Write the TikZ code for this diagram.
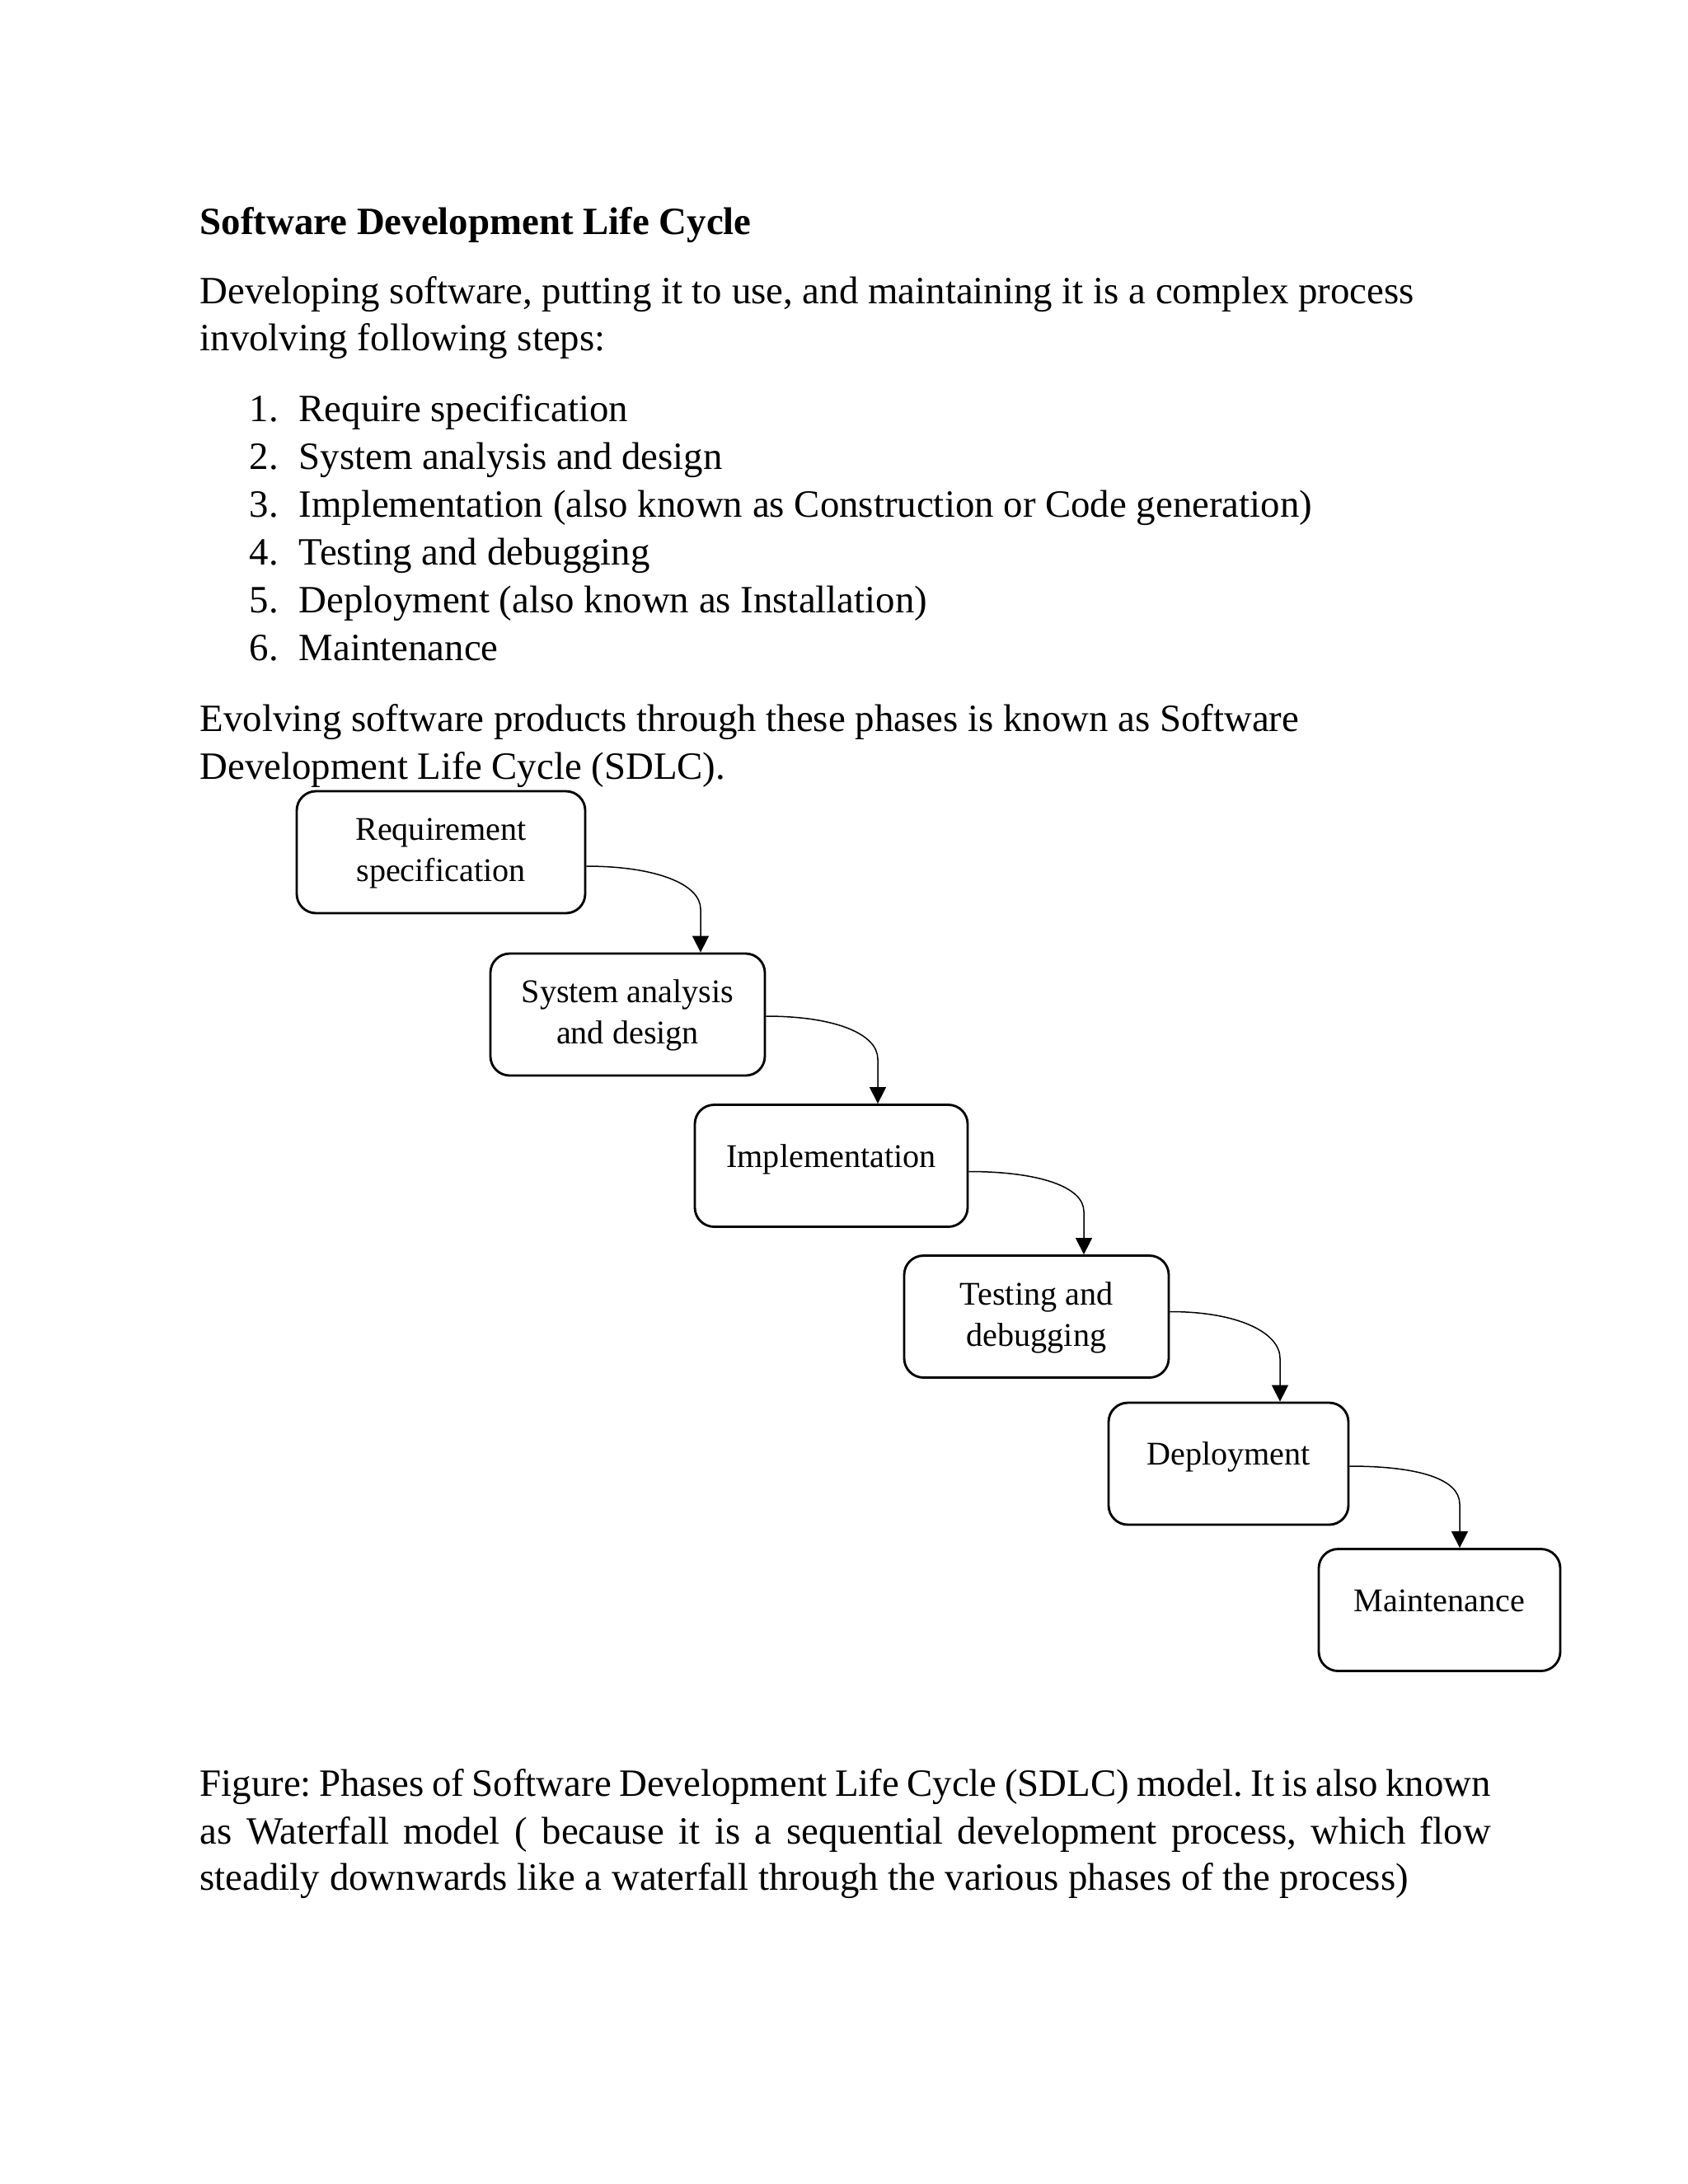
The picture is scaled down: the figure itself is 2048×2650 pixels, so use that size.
\documentclass[tikz,border=0pt]{standalone}
\usepackage{fontspec}
\setmainfont{Liberation Serif}
\usetikzlibrary{arrows.meta,calc}
\begin{document}
\frenchspacing
\begin{tikzpicture}[x=0.29885pt,y=-0.29885pt,
  body/.style={anchor=base west,inner sep=0pt,font=\fontsize{14}{17}\selectfont\frenchspacing},
  ttl/.style={anchor=base west,inner sep=0pt,font=\fontsize{14}{17}\selectfont\bfseries},
  phase/.style={draw,line width=0.85pt,rounded corners=7pt,minimum height={148*0.29885pt},inner sep=0pt},
  ptext/.style={anchor=base,inner sep=0pt,font=\fontsize{12}{14}\selectfont},
  conn/.style={line width=0.45pt,-{Triangle[length=6pt,width=6pt]}}]
\fill[white] (0,0) rectangle (2048,2650);
\useasboundingbox (0,0) rectangle (2048,2650);

% heading and text
\node[ttl] (title) at (242,284) {Software Development Life Cycle};
\node[body] (p1a) at (242,368) {Developing software, putting it to use, and maintaining it is a complex process};
\node[body] (p1b) at (242,425) {involving following steps:};

\node[body] (n1) at (302,511) {1.};
\node[body] (i1) at (362,511) {Require specification};
\node[body] (n2) at (302,569) {2.};
\node[body] (i2) at (362,569) {System analysis and design};
\node[body] (n3) at (302,627) {3.};
\node[body] (i3) at (362,627) {Implementation (also known as Construction or Code generation)};
\node[body] (n4) at (302,685) {4.};
\node[body] (i4) at (362,685) {Testing and debugging};
\node[body] (n5) at (302,743) {5.};
\node[body] (i5) at (362,743) {Deployment (also known as Installation)};
\node[body] (n6) at (302,801) {6.};
\node[body] (i6) at (362,801) {Maintenance};

\node[body] (p2a) at (242,887) {Evolving software products through these phases is known as Software};
\node[body] (p2b) at (242,945) {Development Life Cycle (SDLC).};

% phase boxes
\node[phase,minimum width={350*0.29885pt}] (b1) at (535,1034) {};
\node[phase,minimum width={333*0.29885pt}] (b2) at (761.5,1231) {};
\node[phase,minimum width={331*0.29885pt}] (b3) at (1008.5,1414.5) {};
\node[phase,minimum width={321*0.29885pt}] (b4) at (1257.5,1597.5) {};
\node[phase,minimum width={291*0.29885pt}] (b5) at (1490.5,1776) {};
\node[phase,minimum width={293*0.29885pt}] (b6) at (1746.5,1953.5) {};

\node[ptext] (t1a) at ($(b1.north)+(0,61)$) {Requirement};
\node[ptext] (t1b) at ($(b1.north)+(0,111)$) {specification};
\node[ptext] (t2a) at ($(b2.north)+(0,61)$) {System analysis};
\node[ptext] (t2b) at ($(b2.north)+(0,111)$) {and design};
\node[ptext] (t3) at ($(b3.north)+(0,77)$) {Implementation};
\node[ptext] (t4a) at ($(b4.north)+(0,61)$) {Testing and};
\node[ptext] (t4b) at ($(b4.north)+(0,111)$) {debugging};
\node[ptext] (t5) at ($(b5.north)+(0,77)$) {Deployment};
\node[ptext] (t6) at ($(b6.north)+(0,77)$) {Maintenance};

% connectors
\coordinate (k1) at (850,1103);
\coordinate (k2) at (1065,1285);
\coordinate (k3) at (1315,1470);
\coordinate (k4) at (1553,1648);
\coordinate (k5) at (1771,1825);
\draw[conn] ($(b1.east)+(0,17)$) .. controls +(85,0) and +(0,-30) .. (k1) -- (k1 |- b2.north);
\draw[conn] ($(b2.east)+(0,2)$) .. controls +(85,0) and +(0,-30) .. (k2) -- (k2 |- b3.north);
\draw[conn] ($(b3.east)+(0,7)$) .. controls +(85,0) and +(0,-30) .. (k3) -- (k3 |- b4.north);
\draw[conn] ($(b4.east)+(0,-6)$) .. controls +(85,0) and +(0,-30) .. (k4) -- (k4 |- b5.north);
\draw[conn] ($(b5.east)+(0,3)$) .. controls +(85,0) and +(0,-30) .. (k5) -- (k5 |- b6.north);

% caption
\node[body] (c1) at (242,2179) {\makebox[468pt][s]{Figure: Phases of Software Development Life Cycle (SDLC) model. It is also known}};
\node[body] (c2) at (242,2237) {\makebox[468pt][s]{as Waterfall model ( because it is a sequential development process, which flow}};
\node[body] (c3) at (242,2293) {steadily downwards like a waterfall through the various phases of the process)};
\end{tikzpicture}
\end{document}
